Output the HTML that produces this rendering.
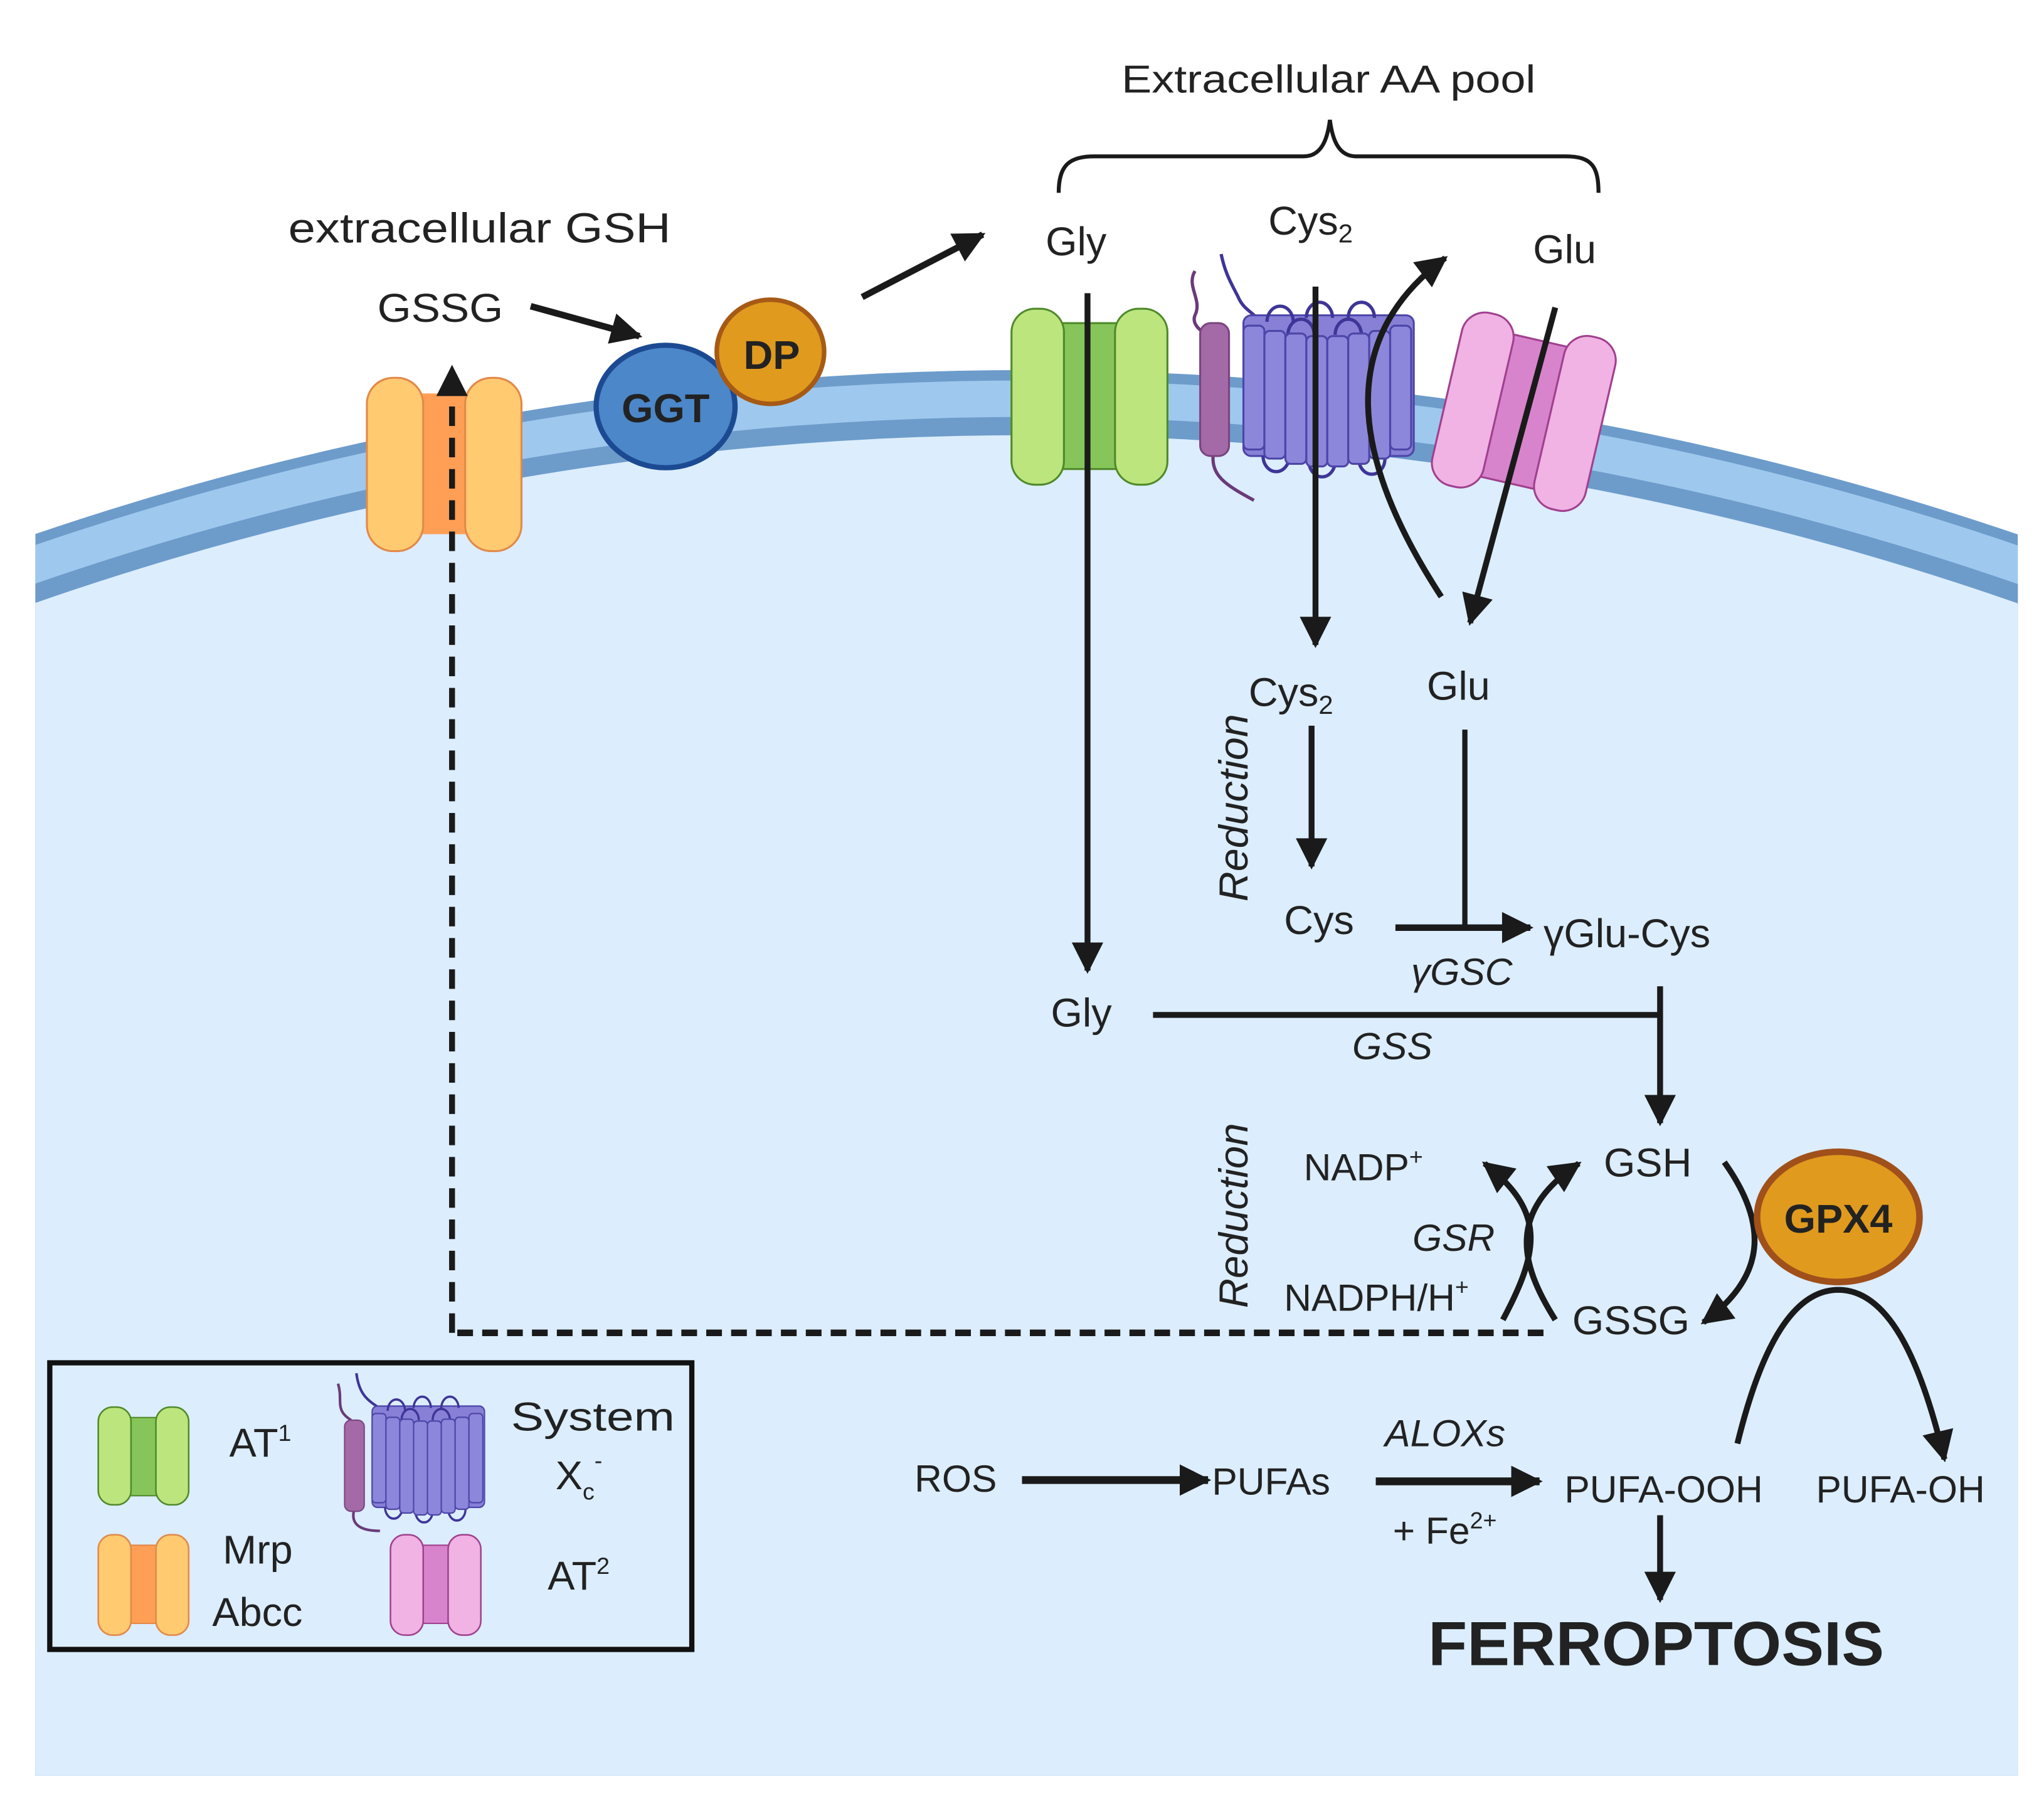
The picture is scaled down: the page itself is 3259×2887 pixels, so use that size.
<!DOCTYPE html>
<html><head><meta charset="utf-8"><style>
html,body{margin:0;padding:0;background:#fff;width:3259px;height:2887px;overflow:hidden}
svg{display:block}
text{font-family:"Liberation Sans",sans-serif;fill:#222}
.it{font-style:italic}
.b{font-weight:bold}
</style></head><body>
<svg width="3259" height="2887" viewBox="0 0 1560 1390" preserveAspectRatio="none" xmlns="http://www.w3.org/2000/svg">
<defs>
<clipPath id="cell"><rect x="27" y="0" width="1513" height="1363"/></clipPath>
<marker id="ah" viewBox="0 0 10 10" refX="9" refY="5" markerWidth="26" markerHeight="24" markerUnits="userSpaceOnUse" orient="auto"><path d="M0,0 L10,5 L0,10 Z" fill="#1a1a1a"/></marker>
<g id="xc">
<rect x="0" y="10" width="130" height="108" rx="6" fill="#8780d6" stroke="#4d45a8" stroke-width="1.5"/>
<g fill="none" stroke="#3e3598" stroke-width="2.5">
<path d="M18,15 a10,12 0 0 1 20,0 M48,12 a10,12 0 0 1 20,0 M80,12 a10,12 0 0 1 20,0 M34,25 a10,12 0 0 1 20,0 M70,25 a10,12 0 0 1 20,0"/>
<path d="M15,118 a10,12 0 0 0 20,0 M50,122 a10,12 0 0 0 20,0 M88,120 a10,12 0 0 0 20,0"/>
</g>
<g fill="#8d87dc" stroke="#4d45a8" stroke-width="1.5">
<rect x="0" y="18" width="16" height="95" rx="4"/><rect x="16" y="22" width="16" height="98" rx="4"/><rect x="32" y="24" width="16" height="100" rx="4"/><rect x="48" y="26" width="16" height="100" rx="4"/><rect x="64" y="26" width="16" height="100" rx="4"/><rect x="80" y="24" width="16" height="100" rx="4"/><rect x="96" y="22" width="16" height="98" rx="4"/><rect x="112" y="18" width="16" height="95" rx="4"/>
</g>
</g>
</defs>

<g clip-path="url(#cell)">
<circle cx="783" cy="2618" r="2334" fill="#6d9ccb"/>
<circle cx="783" cy="2618" r="2326" fill="#9fc8ee"/>
<circle cx="783" cy="2618" r="2298" fill="#6d9ccb"/>
<circle cx="783" cy="2618" r="2284" fill="#dcedfd"/>
</g>

<text x="856" y="71" font-size="30" textLength="316" lengthAdjust="spacingAndGlyphs">Extracellular AA pool</text>
<path d="M808,148 C808,128 815,120 835,120 L995,120 C1008,120 1013,108 1015,92 C1017,108 1022,120 1035,120 L1195,120 C1215,120 1220,128 1220,148" fill="none" stroke="#1a1a1a" stroke-width="3"/>
<text x="220" y="186" font-size="32" textLength="292" lengthAdjust="spacingAndGlyphs">extracellular GSH</text>
<text x="288" y="247" font-size="31" textLength="96" lengthAdjust="spacingAndGlyphs">GSSG</text>
<line x1="405" y1="235" x2="488" y2="258" stroke="#1a1a1a" stroke-width="5" marker-end="url(#ah)"/>
<line x1="658" y1="228" x2="750" y2="180" stroke="#1a1a1a" stroke-width="5" marker-end="url(#ah)"/>

<rect x="316" y="302" width="45" height="108" fill="#ff9f55"/>
<rect x="280" y="290" width="43" height="133" rx="20" fill="#ffca70" stroke="#e2894a" stroke-width="1.5"/>
<rect x="355" y="290" width="43" height="133" rx="20" fill="#ffca70" stroke="#e2894a" stroke-width="1.5"/>

<ellipse cx="508" cy="312" rx="53" ry="47" fill="#4b87c9" stroke="#1c4a92" stroke-width="4"/>
<text x="508" y="324" font-size="31" class="b" text-anchor="middle">GGT</text>
<ellipse cx="588" cy="270" rx="41" ry="40" fill="#e09a1e" stroke="#a65a16" stroke-width="3.5"/>
<text x="589" y="283" font-size="31" class="b" text-anchor="middle">DP</text>

<rect x="800" y="248" width="62" height="112" fill="#86c55a" stroke="#4f8a2a" stroke-width="1.5"/>
<rect x="772" y="237" width="40" height="135" rx="18" fill="#bde57e" stroke="#4f8a2a" stroke-width="1.5"/>
<rect x="851" y="237" width="40" height="135" rx="18" fill="#bde57e" stroke="#4f8a2a" stroke-width="1.5"/>

<path d="M912,208 C905,220 918,230 912,242 C908,252 925,258 926,262" fill="none" stroke="#6a3a7a" stroke-width="2.5"/>
<path d="M926,348 C924,365 935,372 957,384" fill="none" stroke="#6a3a7a" stroke-width="2.5"/>
<path d="M932,195 C935,210 940,218 945,228 C950,240 960,240 962,250" fill="none" stroke="#3e3598" stroke-width="2.5"/>
<rect x="916" y="248" width="22" height="102" rx="8" fill="#a46aa8" stroke="#7a4580" stroke-width="1.5"/>
<g transform="translate(949,232)"><use href="#xc"/></g>

<g transform="translate(1163,316) rotate(13)">
<rect x="-30" y="-56" width="60" height="112" fill="#d884cc" stroke="#a0408e" stroke-width="1.5"/>
<rect x="-60" y="-68" width="40" height="136" rx="18" fill="#f1b2e4" stroke="#a0408e" stroke-width="1.5"/>
<rect x="20" y="-68" width="40" height="136" rx="18" fill="#f1b2e4" stroke="#a0408e" stroke-width="1.5"/>
</g>

<text x="798" y="196" font-size="31">Gly</text>
<text x="968" y="180" font-size="31">Cys<tspan font-size="20" dy="6">2</tspan></text>
<text x="1170" y="202" font-size="31">Glu</text>

<line x1="830" y1="225" x2="830" y2="745" stroke="#1a1a1a" stroke-width="4.5" marker-end="url(#ah)"/>
<line x1="1004" y1="220" x2="1004" y2="495" stroke="#1a1a1a" stroke-width="4.5" marker-end="url(#ah)"/>
<path d="M1100,458 C1030,350 1020,260 1103,198" fill="none" stroke="#1a1a1a" stroke-width="4.5" marker-end="url(#ah)"/>
<line x1="1187" y1="236" x2="1122" y2="478" stroke="#1a1a1a" stroke-width="4.5" marker-end="url(#ah)"/>

<text x="953" y="542" font-size="31">Cys<tspan font-size="20" dy="6">2</tspan></text>
<text x="1089" y="537" font-size="31">Glu</text>
<text transform="translate(952,692) rotate(-90)" font-size="31" class="it" textLength="144" lengthAdjust="spacingAndGlyphs">Reduction</text>
<line x1="1001" y1="557" x2="1001" y2="665" stroke="#1a1a1a" stroke-width="4.5" marker-end="url(#ah)"/>
<line x1="1118" y1="560" x2="1118" y2="712" stroke="#1a1a1a" stroke-width="4"/>
<text x="980" y="717" font-size="31">Cys</text>
<line x1="1065" y1="712" x2="1168" y2="712" stroke="#1a1a1a" stroke-width="5" marker-end="url(#ah)"/>
<text x="1178" y="727" font-size="31">γGlu-Cys</text>
<text x="1077" y="756" font-size="29" class="it">γGSC</text>
<text x="802" y="788" font-size="31">Gly</text>
<line x1="880" y1="779" x2="1268" y2="779" stroke="#1a1a1a" stroke-width="4.5"/>
<line x1="1267" y1="757" x2="1267" y2="862" stroke="#1a1a1a" stroke-width="4.5" marker-end="url(#ah)"/>
<text x="1032" y="813" font-size="29" class="it">GSS</text>

<text transform="translate(952,1004) rotate(-90)" font-size="31" class="it" textLength="142" lengthAdjust="spacingAndGlyphs">Reduction</text>
<text x="995" y="906" font-size="29">NADP<tspan font-size="18" dy="-12">+</tspan></text>
<text x="1224" y="903" font-size="31">GSH</text>
<text x="1078" y="960" font-size="29" class="it">GSR</text>
<text x="980" y="1006" font-size="29">NADPH/H<tspan font-size="18" dy="-12">+</tspan></text>
<text x="1200" y="1024" font-size="31">GSSG</text>
<path d="M1147,1013 C1175,960 1180,930 1133,893" fill="none" stroke="#1a1a1a" stroke-width="4.5" marker-end="url(#ah)"/>
<path d="M1187,1013 C1160,970 1150,930 1205,893" fill="none" stroke="#1a1a1a" stroke-width="4.5" marker-end="url(#ah)"/>

<path d="M1316,892 C1350,940 1348,980 1300,1015" fill="none" stroke="#1a1a1a" stroke-width="4.5" marker-end="url(#ah)"/>
<ellipse cx="1403" cy="934" rx="62" ry="50" fill="#e09a1e" stroke="#a0501a" stroke-width="5"/>
<text x="1403" y="946" font-size="31" class="b" text-anchor="middle">GPX4</text>
<path d="M1326,1108 C1345,1030 1370,990 1403,990 C1440,990 1465,1040 1484,1120" fill="none" stroke="#1a1a1a" stroke-width="4.5" marker-end="url(#ah)"/>

<path d="M1178,1023 L345,1023" fill="none" stroke="#1a1a1a" stroke-width="5" stroke-dasharray="12 7"/>
<path d="M345,1023 L345,290" fill="none" stroke="#1a1a1a" stroke-width="4.5" stroke-dasharray="15 9"/>
<path d="M333,304 L345,280 L357,304 Z" fill="#1a1a1a"/>

<text x="698" y="1145" font-size="29">ROS</text>
<line x1="780" y1="1136" x2="922" y2="1136" stroke="#1a1a1a" stroke-width="6" marker-end="url(#ah)"/>
<text x="925" y="1147" font-size="29">PUFAs</text>
<line x1="1050" y1="1137" x2="1175" y2="1137" stroke="#1a1a1a" stroke-width="6" marker-end="url(#ah)"/>
<text x="1057" y="1110" font-size="29" class="it">ALOXs</text>
<text x="1063" y="1185" font-size="29">+ Fe<tspan font-size="18" dy="-12">2+</tspan></text>
<text x="1194" y="1153" font-size="29">PUFA-OOH</text>
<text x="1386" y="1153" font-size="29">PUFA-OH</text>
<line x1="1267" y1="1163" x2="1267" y2="1228" stroke="#1a1a1a" stroke-width="4.5" marker-end="url(#ah)"/>
<text x="1090" y="1278" font-size="48" class="b" textLength="348" lengthAdjust="spacingAndGlyphs">FERROPTOSIS</text>

<rect x="38" y="1046" width="490" height="220" fill="none" stroke="#111" stroke-width="4"/>
<rect x="94" y="1088" width="32" height="60" fill="#86c55a" stroke="#4f8a2a" stroke-width="1"/>
<rect x="75" y="1080" width="25" height="75" rx="11" fill="#bde57e" stroke="#4f8a2a" stroke-width="1.2"/>
<rect x="119" y="1080" width="25" height="75" rx="11" fill="#bde57e" stroke="#4f8a2a" stroke-width="1.2"/>
<rect x="94" y="1186" width="32" height="60" fill="#ff9f55" stroke="#e2894a" stroke-width="1"/>
<rect x="75" y="1178" width="25" height="77" rx="11" fill="#ffca70" stroke="#e2894a" stroke-width="1.2"/>
<rect x="119" y="1178" width="25" height="77" rx="11" fill="#ffca70" stroke="#e2894a" stroke-width="1.2"/>
<rect x="317" y="1186" width="32" height="60" fill="#d884cc" stroke="#a0408e" stroke-width="1"/>
<rect x="298" y="1178" width="25" height="77" rx="11" fill="#f1b2e4" stroke="#a0408e" stroke-width="1.2"/>
<rect x="342" y="1178" width="25" height="77" rx="11" fill="#f1b2e4" stroke="#a0408e" stroke-width="1.2"/>
<path d="M258,1062 C262,1075 255,1082 268,1090 M270,1160 C268,1170 275,1175 290,1175" fill="none" stroke="#6a3a7a" stroke-width="2"/>
<path d="M272,1054 C274,1070 280,1075 292,1082" fill="none" stroke="#3e3598" stroke-width="2"/>
<rect x="263" y="1090" width="15" height="70" rx="5" fill="#a46aa8" stroke="#7a4580" stroke-width="1"/>
<g transform="translate(284,1072) scale(0.66,0.72)"><use href="#xc"/></g>
<text x="175" y="1118" font-size="31">AT<tspan font-size="18" dy="-12">1</tspan></text>
<text x="390" y="1098" font-size="31" textLength="125" lengthAdjust="spacingAndGlyphs">System</text>
<text x="424" y="1143" font-size="31">X<tspan font-size="18" dy="8">c</tspan><tspan font-size="18" dy="-24">-</tspan></text>
<text x="170" y="1200" font-size="31">Mrp</text>
<text x="162" y="1248" font-size="31">Abcc</text>
<text x="418" y="1220" font-size="31">AT<tspan font-size="18" dy="-12">2</tspan></text>
</svg>
</body></html>
